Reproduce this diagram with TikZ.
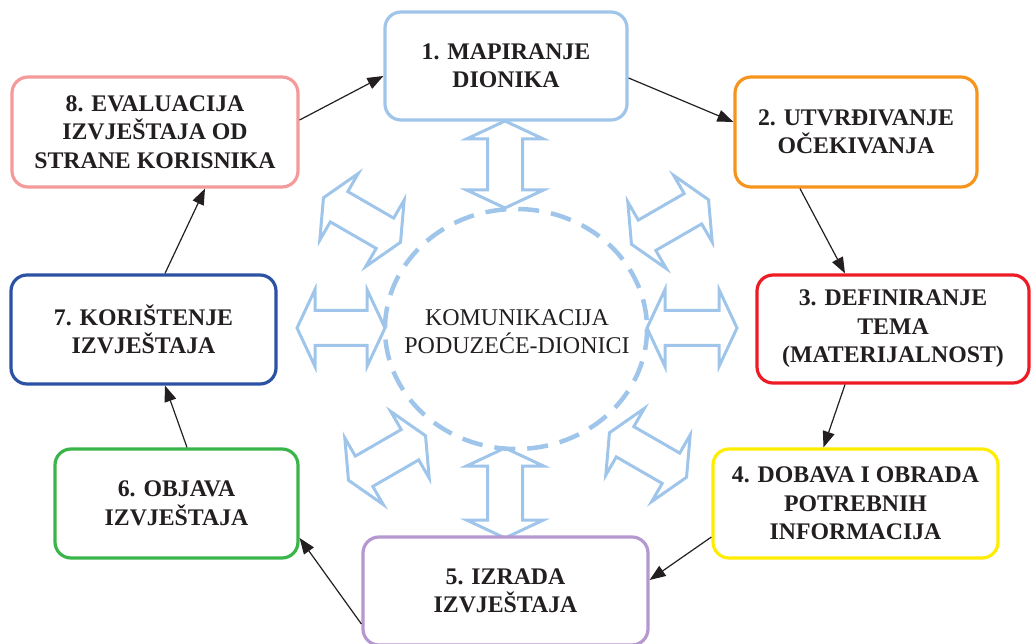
\documentclass[tikz,border=0pt]{standalone}
\usepackage{fontspec}
\setmainfont{Liberation Serif}
\usetikzlibrary{arrows.meta,shapes.geometric}
\definecolor{lb}{HTML}{9FC6EA}
\definecolor{cone}{HTML}{9FC6EA}
\definecolor{ctwo}{HTML}{F7941D}
\definecolor{cthree}{HTML}{ED1C24}
\definecolor{cfour}{HTML}{FFED00}
\definecolor{cfive}{HTML}{B498CF}
\definecolor{csix}{HTML}{39B54A}
\definecolor{cseven}{HTML}{2B52A3}
\definecolor{ceight}{HTML}{F49A9A}
\definecolor{txt}{HTML}{231F20}
\newcommand{\dblarrow}[4]{%
  \draw[blarrow, shift={(#1,#2)}, rotate=#3]
    (-#4/2,0) -- ++(18,-38.5) -- ++(0,21) -- (#4/2-18,-17.5) -- ++(0,-21)
    -- (#4/2,0) -- ++(-18,38.5) -- ++(0,-21) -- (-#4/2+18,17.5) -- ++(0,21) -- cycle;}
\begin{document}
\begin{tikzpicture}[x=1pt,y=-1pt,
  box/.style={draw, line width=3.2pt, rounded corners=16pt, fill=white, align=center,
    inner sep=0pt, font=\fontsize{23.8}{28.5}\selectfont\bfseries, text=txt},
  conn/.style={line width=1.2pt, draw=txt, -{Triangle[length=16pt,width=12pt]}},
  blarrow/.style={draw=lb, line width=3pt, line join=miter}]
\useasboundingbox (0,0) rectangle (1031,644);

% hollow double arrows
\dblarrow{505}{164.5}{90}{87}
\dblarrow{505}{493}{90}{90}
\dblarrow{341}{328}{0}{88}
\dblarrow{692}{328}{0}{90}
\dblarrow{362}{220}{-30}{89}
\dblarrow{670}{222}{30}{89}
\dblarrow{387}{458}{30}{89}
\dblarrow{648}{455}{-30}{89}

% centre
\node[align=center, inner sep=0pt, font=\fontsize{24}{28}\selectfont, text=txt] (c) at (517,332)
  {KOMUNIKACIJA\\PODUZEĆE-DIONICI};
\draw[draw=lb, line width=4.5pt, dash pattern=on 21pt off 12pt]
  (516,329) ellipse [x radius=131, y radius=120];

% boxes
\node[box, draw=cone, minimum width=242pt, minimum height=108pt] (b1) at (506,66) {1. MAPIRANJE\\DIONIKA};
\node[box, draw=ctwo, minimum width=242pt, minimum height=110pt] (b2) at (856,132) {2. UTVRĐIVANJE\\OČEKIVANJA};
\node[box, draw=cthree, minimum width=272pt, minimum height=108pt] (b3) at (893,329) {3. DEFINIRANJE\\TEMA\\(MATERIJALNOST)};
\node[box, draw=cfour, minimum width=285pt, minimum height=109pt] (b4) at (855.5,503.5) {4. DOBAVA I OBRADA\\POTREBNIH\\INFORMACIJA};
\node[box, draw=cfive, minimum width=285pt, minimum height=108pt] (b5) at (505.5,591) {5. IZRADA\\IZVJEŠTAJA};
\node[box, draw=csix, minimum width=243pt, minimum height=109pt] (b6) at (176.5,503.5) {6. OBJAVA\\IZVJEŠTAJA};
\node[box, draw=cseven, minimum width=265pt, minimum height=109pt] (b7) at (143.5,329.5) {7. KORIŠTENJE\\IZVJEŠTAJA};
\node[box, draw=ceight, minimum width=286pt, minimum height=110pt] (b8) at (155,132) {8. EVALUACIJA\\IZVJEŠTAJA OD\\STRANE KORISNIKA};

% connectors
\draw[conn] ([yshift=12pt]b8.east) -- ([yshift=-10pt]b1.west);
\draw[conn] ([yshift=-12pt]b1.east) -- ([yshift=10pt]b2.west);
\draw[conn] ([xshift=-56pt]b2.south) -- ([xshift=-48pt]b3.north);
\draw[conn] ([xshift=-48pt]b3.south) -- ([xshift=-32pt]b4.north);
\draw[conn] ([yshift=-33.5pt]b4.west) -- ([yshift=11pt]b5.east);
\draw[conn] ([yshift=-33pt]b5.west) -- ([yshift=-34.5pt]b6.east);
\draw[conn] ([xshift=10.5pt]b6.north) -- ([xshift=21.5pt]b7.south);
\draw[conn] ([xshift=21.5pt]b7.north) -- ([xshift=50pt]b8.south);
\end{tikzpicture}
\end{document}
